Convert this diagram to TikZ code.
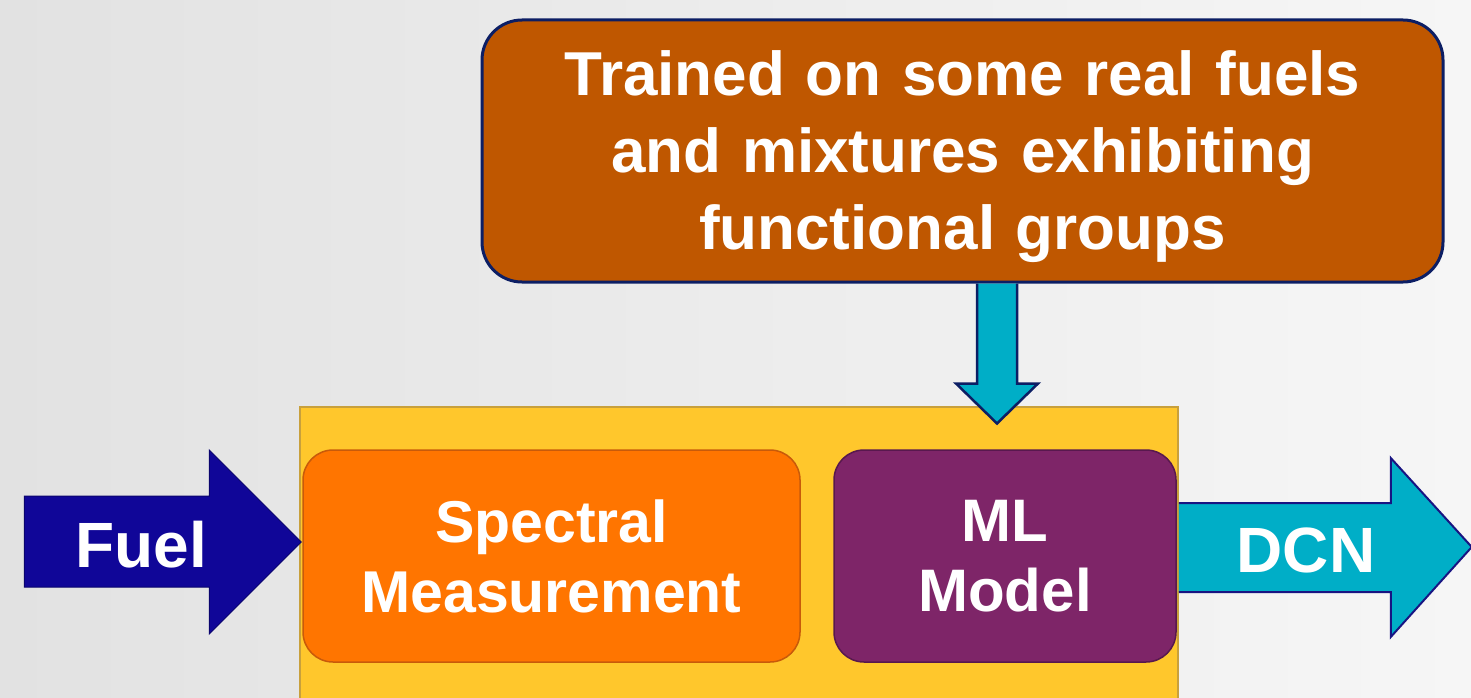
\documentclass[tikz,border=0pt]{standalone}
\usepackage{fontspec}
\setmainfont{Liberation Sans}
\usetikzlibrary{calc}
\definecolor{bgA}{RGB}{226,226,226}
\definecolor{bgB}{RGB}{246,246,246}
\definecolor{fuelblue}{RGB}{16,6,152}
\definecolor{fuelline}{RGB}{10,4,110}
\definecolor{panelyellow}{RGB}{255,199,44}
\definecolor{panelline}{RGB}{200,160,60}
\definecolor{specorange}{RGB}{255,117,0}
\definecolor{specline}{RGB}{200,90,10}
\definecolor{mlpurple}{RGB}{126,37,104}
\definecolor{mlline}{RGB}{88,24,78}
\definecolor{trainbrown}{RGB}{191,87,0}
\definecolor{navy}{RGB}{12,30,100}
\definecolor{cyanfill}{RGB}{0,174,199}
\definecolor{dcnline}{RGB}{24,20,130}
\begin{document}
\begin{tikzpicture}[x=1pt,y=-1pt,
  lbl/.style n args={2}{text=white,font=\bfseries\fontsize{#1}{#2}\selectfont,align=center},
  blockbox/.style={rounded corners=30pt,line width=1.5pt,inner sep=0pt},
  blockarrow/.style={line width=1.5pt,line join=miter}]
  % backdrop
  \shade[shading angle=120,left color=bgA,right color=bgB] (0,0) rectangle (1471,698);
  \useasboundingbox (0,0) rectangle (1471,698);

  % yellow panel holding the two stages (runs off the bottom edge)
  \node[draw=panelline,fill=panelyellow,line width=1.5pt,minimum width=878pt,minimum height=300pt,inner sep=0pt]
    (panel) at (739,557) {};

  % the two stages
  \node[blockbox,draw=specline,fill=specorange,minimum width=497pt,minimum height=212pt]
    (spec) at (551.5,556) {};
  \node[lbl={59}{70}] at (spec) {Spectral\\Measurement};

  \node[blockbox,draw=mlline,fill=mlpurple,minimum width=342pt,minimum height=212pt]
    (ml) at (1005,556) {};
  \node[lbl={60}{70}] at (ml) {ML\\Model};

  % training data box
  \node[blockbox,rounded corners=40pt,draw=navy,fill=trainbrown,line width=3pt,
        minimum width=961pt,minimum height=262pt]
    (train) at (962.5,151) {};
  \node[lbl={62}{77},text width=940pt] at ($(train)+(0,6)$)
    {Trained on some real fuels\\and mixtures exhibiting\\functional groups};

  % down arrow: training data feeds the model
  \coordinate (dtop) at ($(train.south)+(34.5,0)$);
  \draw[blockarrow,draw=navy,fill=cyanfill,line width=2.5pt]
    ($(dtop)+(-20,0)$) -- ($(dtop)+(-20,100)$) -- ($(dtop)+(-41,100)$)
    -- ($(dtop)+(0,140)$) coordinate (dtip)
    -- ($(dtop)+(41,100)$) -- ($(dtop)+(20,100)$) -- ($(dtop)+(20,0)$);

  % input arrow: fuel
  \coordinate (ftip) at ($(panel.west|-spec)+(2,-14)$);
  \draw[blockarrow,draw=fuelline,fill=fuelblue,line width=1pt]
    ($(ftip)+(-277,-46)$) -- ($(ftip)+(-92,-46)$) -- ($(ftip)+(-92,-92)$)
    -- (ftip) -- ($(ftip)+(-92,92)$) -- ($(ftip)+(-92,45)$) -- ($(ftip)+(-277,45)$) -- cycle;
  \node[lbl={64}{70}] (fuel) at (141,545) {Fuel};

  % output arrow: DCN
  \coordinate (dstart) at (panel.east|-ml);
  \draw[blockarrow,draw=dcnline,fill=cyanfill,line width=2pt]
    ($(dstart)+(0,-53)$) -- ($(dstart)+(212,-53)$) -- ($(dstart)+(212,-98)$)
    -- ($(dstart)+(293,-9)$) -- ($(dstart)+(212,81)$) -- ($(dstart)+(212,36)$)
    -- ($(dstart)+(0,36)$);
  \node[lbl={64}{70}] (dcn) at (1306,550) {DCN};
\end{tikzpicture}
\end{document}
